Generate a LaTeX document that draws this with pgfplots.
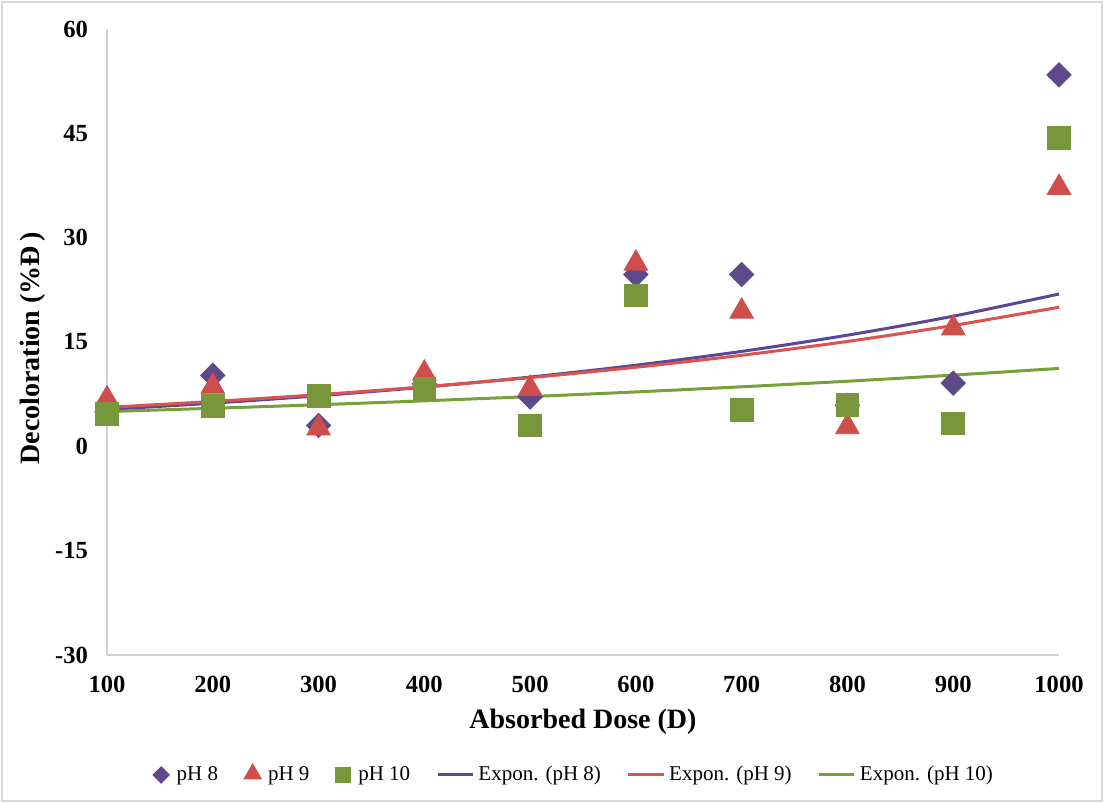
\documentclass[border=0pt]{standalone}
\usepackage{pgfplots}
\pgfplotsset{compat=1.18}
\usepackage{fontspec}
\setmainfont{Liberation Serif}
\definecolor{cpur}{HTML}{5E4A8A}
\definecolor{cred}{HTML}{CD4E4B}
\definecolor{cgrn}{HTML}{77973A}
\definecolor{lpur}{HTML}{5A4796}
\definecolor{lred}{HTML}{D9534F}
\definecolor{lgrn}{HTML}{75A03A}
\begin{document}
\begin{tikzpicture}
\begin{axis}[
  name=ax,
  scale only axis,
  width=476pt, height=313pt,
  xmin=100, xmax=1000, ymin=-30, ymax=60,
  xtick={100,200,...,1000},
  ytick={-30,-15,0,15,30,45,60},
  axis x line=bottom, axis y line=left,
  axis line style={-, draw=gray!35, line width=0.8pt},
  major tick length=0pt,
  /pgf/number format/assume math mode=true,
  /pgf/number format/1000 sep={},
  tick label style={font=\fontsize{12.3}{14}\selectfont\bfseries},
  yticklabel style={xshift=-6pt},
  xticklabel style={yshift=-7pt},
  xlabel={Absorbed Dose (D)},
  ylabel={Decoloration (\%Đ\,)},
  label style={font=\fontsize{14}{16}\selectfont\bfseries},
  xlabel style={at={(axis description cs:0.5,-0.107)}, anchor=center},
  ylabel style={at={(axis description cs:-0.0777,0.49)}, anchor=center, rotate=0},
  clip=false,
  legend columns=6,
  legend style={at={(0.4916,-0.1917)}, anchor=center, draw=none,
    font=\fontsize{10.5}{12}\selectfont, column sep=0pt,
    /tikz/every odd column/.append style={column sep=0pt},
    /tikz/every even column/.append style={column sep=11pt},
    inner sep=0pt},
]
% markers
\addplot[only marks, mark=square*, mark size=4.3pt, mark options={rotate=45, fill=cpur, draw=cpur}, legend image code/.code={\path[draw=none,fill=none] (0cm,0cm) -- (0.3cm,0cm); \draw[fill=cpur,draw=cpur] plot[mark=square*, mark size=2.9pt, mark options={rotate=45}] coordinates {(0.1cm,0cm)};}]
 coordinates {(100,5.0) (200,10.2) (300,3.0) (400,9.0) (500,7.1) (600,24.7) (700,24.7) (800,5.9) (900,9.1) (1000,53.4)};
\addlegendentry{pH 8}
\addplot[only marks, mark=triangle*, mark size=6.8pt, mark options={fill=cred, draw=cred}, legend image code/.code={\path[draw=none,fill=none] (0cm,0cm) -- (0.3cm,0cm); \draw[fill=cred,draw=cred] plot[mark=triangle*, mark size=5pt] coordinates {(0.1cm,0.02cm)};}]
 coordinates {(100,6.8) (200,8.6) (300,2.6) (400,10.5) (500,8.3) (600,26.3) (700,19.4) (800,2.8) (900,17.0) (1000,37.2)};
\addlegendentry{pH 9}
\addplot[only marks, mark=square*, mark size=5.7pt, mark options={fill=cgrn, draw=cgrn, rounded corners=1pt}, legend image code/.code={\path[draw=none,fill=none] (0cm,0cm) -- (0.3cm,0cm); \draw[fill=cgrn,draw=cgrn] plot[mark=square*, mark size=3.7pt] coordinates {(0.1cm,0cm)};}]
 coordinates {(100,4.7) (200,5.8) (300,7.2) (400,8.3) (500,3.0) (600,21.7) (700,5.2) (800,5.9) (900,3.3) (1000,44.4)};
\addlegendentry{pH 10}
% trend lines
\addplot[lpur, line width=1.5pt, smooth, no marks, legend image code/.code={\draw[lpur, line width=1.5pt] (0cm,0cm) -- (0.62cm,0cm);}]
 coordinates {(100,5.3) (200,6.21) (300,7.27) (400,8.51) (500,9.96) (600,11.66) (700,13.65) (800,15.98) (900,18.71) (1000,21.9)};
\addlegendentry{Expon. (pH 8)}
\addplot[lred, line width=1.5pt, smooth, no marks, legend image code/.code={\draw[lred, line width=1.5pt] (0cm,0cm) -- (0.62cm,0cm);}]
 coordinates {(100,5.6) (200,6.45) (300,7.43) (400,8.56) (500,9.87) (600,11.37) (700,13.09) (800,15.08) (900,17.38) (1000,20.0)};
\addlegendentry{Expon. (pH 9)}
\addplot[lgrn, line width=1.5pt, smooth, no marks, legend image code/.code={\draw[lgrn, line width=1.5pt] (0cm,0cm) -- (0.62cm,0cm);}]
 coordinates {(100,5.0) (200,5.47) (300,5.98) (400,6.54) (500,7.15) (600,7.82) (700,8.56) (800,9.36) (900,10.24) (1000,11.2)};
\addlegendentry{Expon. (pH 10)}
\end{axis}
\path[use as bounding box] ([xshift=-53.5pt,yshift=-74pt]ax.south west) rectangle ([xshift=22.5pt,yshift=14.5pt]ax.north east);
\draw[gray!30, line width=0.8pt] ([xshift=-52.5pt,yshift=-73pt]ax.south west) rectangle ([xshift=21.5pt,yshift=13.5pt]ax.north east);
\end{tikzpicture}
\end{document}
